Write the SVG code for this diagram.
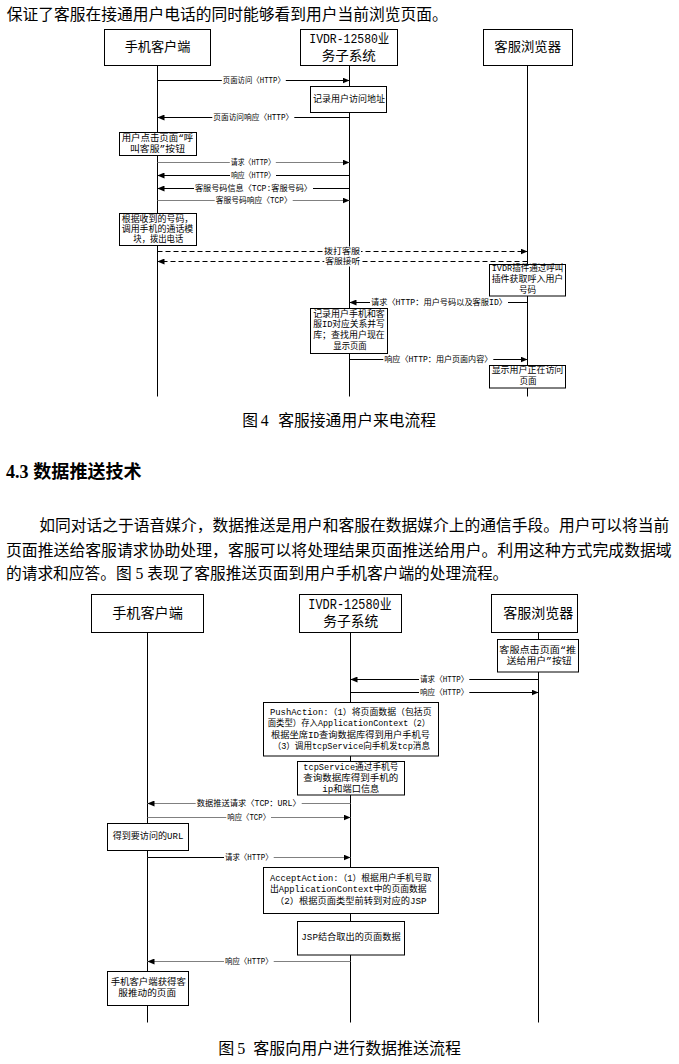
<svg xmlns="http://www.w3.org/2000/svg" width="679" height="1064" viewBox="0 0 679 1064">
<style>
.bg{fill:#fff}
.bx{fill:#fff;stroke:#000;stroke-width:1}
.ll{stroke:#000;stroke-width:1}
.m{stroke:#000;stroke-width:1;fill:none}
.g{stroke:#808080}
.d{stroke-dasharray:5 3}
.t{font-family:"Liberation Mono","Noto Sans CJK SC",monospace;fill:#000;text-anchor:middle;dominant-baseline:central}
.lb{font-size:8.3px}
.nt{font-size:8.6px}
.h1{font-size:13px}
.h2{font-size:14px}
.lr{fill:#fff}
.body{font-family:"Liberation Serif","Noto Sans CJK SC",serif;font-size:15.75px;fill:#000;dominant-baseline:central}
.hd{font-family:"Liberation Serif","Noto Sans CJK SC",serif;font-size:18px;font-weight:bold;fill:#000;dominant-baseline:central}
</style>
<defs>
<marker id="ah" markerUnits="userSpaceOnUse" markerWidth="7" markerHeight="6" refX="7" refY="3" orient="auto">
<path d="M0,0 L7,3 L0,6 z" fill="#000"/>
</marker>
</defs>
<rect class="bg" x="0" y="0" width="679" height="1064"/>

<!-- page text -->
<g id="text-top">
<text class="body" x="6.7" y="14" textLength="441" lengthAdjust="spacingAndGlyphs">保证了客服在接通用户电话的同时能够看到用户当前浏览页面。</text>
</g>

<!-- ============ Diagram 1 ============ -->
<g id="d1-p-client">
<line class="ll" x1="157.5" y1="65.5" x2="157.5" y2="396.5"/>
<rect class="bx" x="104.5" y="29.5" width="106" height="36"/>
<text class="t h1" x="157.5" y="47" textLength="65.7" lengthAdjust="spacingAndGlyphs">手机客户端</text>
</g>
<g id="d1-p-ivdr">
<line class="ll" x1="349.5" y1="65.5" x2="349.5" y2="396.5"/>
<rect class="bx" x="300.5" y="29.5" width="97" height="36"/>
<text class="t h1" x="349.3" y="39.5" textLength="80" lengthAdjust="spacingAndGlyphs">IVDR-12580业</text>
<text class="t h1" x="348.8" y="56" textLength="54.3" lengthAdjust="spacingAndGlyphs">务子系统</text>
</g>
<g id="d1-p-browser">
<line class="ll" x1="527.5" y1="65.5" x2="527.5" y2="396.5"/>
<rect class="bx" x="483.5" y="29.5" width="89" height="36"/>
<text class="t h1" x="527.7" y="47" textLength="66.7" lengthAdjust="spacingAndGlyphs">客服浏览器</text>
</g>

<g id="d1-connectors">
<line class="m" x1="157.5" y1="80.5" x2="349.5" y2="80.5" marker-end="url(#ah)"/>
<line class="m" x1="349.5" y1="117.5" x2="157.5" y2="117.5" marker-end="url(#ah)"/>
<line class="m g" x1="157.5" y1="162.5" x2="349.5" y2="162.5" marker-end="url(#ah)"/>
<line class="m" x1="349.5" y1="175.5" x2="157.5" y2="175.5" marker-end="url(#ah)"/>
<line class="m" x1="349.5" y1="188.5" x2="157.5" y2="188.5" marker-end="url(#ah)"/>
<line class="m g" x1="157.5" y1="200.5" x2="349.5" y2="200.5" marker-end="url(#ah)"/>
<line class="m d" x1="157.5" y1="251.5" x2="527.5" y2="251.5" marker-end="url(#ah)"/>
<line class="m d" x1="527.5" y1="261.5" x2="157.5" y2="261.5" marker-end="url(#ah)"/>
<line class="m" x1="527.5" y1="302.5" x2="349.5" y2="302.5" marker-end="url(#ah)"/>
<line class="m" x1="349.5" y1="359.5" x2="527.5" y2="359.5" marker-end="url(#ah)"/>
</g>

<g id="d1-labels">
<rect class="lr" x="221.8" y="75.5" width="64" height="10"/>
<text class="t lb" x="253.8" y="80.5" textLength="62" lengthAdjust="spacingAndGlyphs">页面访问〈HTTP〉</text>
<rect class="lr" x="212.3" y="112.5" width="82" height="10"/>
<text class="t lb" x="253.3" y="117.5" textLength="80" lengthAdjust="spacingAndGlyphs">页面访问响应〈HTTP〉</text>
<rect class="lr" x="229.8" y="157.5" width="46" height="10"/>
<text class="t lb" x="252.8" y="162.5" textLength="44" lengthAdjust="spacingAndGlyphs">请求〈HTTP〉</text>
<rect class="lr" x="230" y="170.5" width="46" height="10"/>
<text class="t lb" x="253" y="175.5" textLength="44" lengthAdjust="spacingAndGlyphs">响应〈HTTP〉</text>
<rect class="lr" x="194" y="183.5" width="119" height="10"/>
<text class="t lb" x="253.5" y="188.5" textLength="117" lengthAdjust="spacingAndGlyphs">客服号码信息〈TCP:客服号码〉</text>
<rect class="lr" x="214.7" y="195.5" width="78" height="10"/>
<text class="t lb" x="253.7" y="200.5" textLength="76" lengthAdjust="spacingAndGlyphs">客服号码响应〈TCP〉</text>
<rect class="lr" x="323" y="246.5" width="38" height="10"/>
<text class="t lb" x="342" y="251.5" textLength="36" lengthAdjust="spacingAndGlyphs">拨打客服</text>
<rect class="lr" x="324.3" y="256.5" width="37" height="10"/>
<text class="t lb" x="342.8" y="261.5" textLength="35" lengthAdjust="spacingAndGlyphs">客服接听</text>
<rect class="lr" x="370" y="297.5" width="138" height="10"/>
<text class="t lb" x="439" y="302.5" textLength="136" lengthAdjust="spacingAndGlyphs">请求〈HTTP：用户号码以及客服ID〉</text>
<rect class="lr" x="383.3" y="354.5" width="110" height="10"/>
<text class="t lb" x="438.3" y="359.5" textLength="108" lengthAdjust="spacingAndGlyphs">响应〈HTTP：用户页面内容〉</text>
</g>

<g id="d1-n-record">
<rect class="bx" x="310.5" y="86.5" width="76" height="26"/>
<text class="t nt" x="349" y="99.5" textLength="72" lengthAdjust="spacingAndGlyphs">记录用户访问地址</text>
</g>
<g id="d1-n-click">
<rect class="bx" x="119.5" y="132.5" width="77" height="23"/>
<text class="t nt" x="157.5" y="138.5" textLength="71.6" lengthAdjust="spacingAndGlyphs">用户点击页面“呼</text>
<text class="t nt" x="157.5" y="149.5" textLength="55" lengthAdjust="spacingAndGlyphs">叫客服”按钮</text>
</g>
<g id="d1-n-dial">
<rect class="bx" x="119.5" y="213.5" width="77" height="32"/>
<text class="t nt" x="157.5" y="220" textLength="71.6" lengthAdjust="spacingAndGlyphs">根据收到的号码，</text>
<text class="t nt" x="157.5" y="230.2" textLength="71.6" lengthAdjust="spacingAndGlyphs">调用手机的通话模</text>
<text class="t nt" x="158.3" y="240" textLength="50" lengthAdjust="spacingAndGlyphs">块，拨出电话</text>
</g>
<g id="d1-n-plugin">
<rect class="bx" x="489.5" y="264.5" width="76" height="31.5"/>
<text class="t nt" x="527.5" y="269.4" textLength="71.7" lengthAdjust="spacingAndGlyphs">IVDR插件通过呼叫</text>
<text class="t nt" x="527.5" y="280.1" textLength="71.7" lengthAdjust="spacingAndGlyphs">插件获取呼入用户</text>
<text class="t nt" x="527.5" y="290.8">号码</text>
</g>
<g id="d1-n-store">
<rect class="bx" x="310.5" y="308.5" width="77" height="45"/>
<text class="t nt" x="349" y="314.6" textLength="71.7" lengthAdjust="spacingAndGlyphs">记录用户手机和客</text>
<text class="t nt" x="349" y="325.4" textLength="71.7" lengthAdjust="spacingAndGlyphs">服ID对应关系并写</text>
<text class="t nt" x="349" y="336.3" textLength="71.7" lengthAdjust="spacingAndGlyphs">库；查找用户现在</text>
<text class="t nt" x="350" y="347.3" textLength="33.4" lengthAdjust="spacingAndGlyphs">显示页面</text>
</g>
<g id="d1-n-show">
<rect class="bx" x="489.5" y="365.5" width="76" height="22.5"/>
<text class="t nt" x="527.5" y="371.3" textLength="71.7" lengthAdjust="spacingAndGlyphs">显示用户正在访问</text>
<text class="t nt" x="528" y="382">页面</text>
</g>

<g id="caption-4">
<text class="body" y="420"><tspan x="242.3">图</tspan><tspan x="260.7">4</tspan><tspan x="278.3" textLength="157.7" lengthAdjust="spacingAndGlyphs">客服接通用户来电流程</tspan></text>
</g>

<g id="heading">
<text class="hd" y="471.7"><tspan x="6">4.3</tspan><tspan x="33.3" textLength="108.3" lengthAdjust="spacingAndGlyphs">数据推送技术</tspan></text>
</g>

<g id="paragraph">
<text class="body" x="39.3" y="525" textLength="630" lengthAdjust="spacingAndGlyphs">如同对话之于语音媒介，数据推送是用户和客服在数据媒介上的通信手段。用户可以将当前</text>
<text class="body" x="6" y="550" textLength="665.7" lengthAdjust="spacingAndGlyphs">页面推送给客服请求协助处理，客服可以将处理结果页面推送给用户。利用这种方式完成数据域</text>
<text class="body" x="6" y="573.3" textLength="502.3" lengthAdjust="spacingAndGlyphs">的请求和应答。图 5 表现了客服推送页面到用户手机客户端的处理流程。</text>
</g>

<!-- ============ Diagram 2 ============ -->
<g id="d2-p-client">
<line class="ll" x1="147.5" y1="632.5" x2="147.5" y2="1022.5"/>
<rect class="bx" x="91.5" y="594.5" width="112" height="38"/>
<text class="t h2" x="147.5" y="613.5" textLength="70.7" lengthAdjust="spacingAndGlyphs">手机客户端</text>
</g>
<g id="d2-p-ivdr">
<line class="ll" x1="350.5" y1="632.5" x2="350.5" y2="1022.5"/>
<rect class="bx" x="299.5" y="594.5" width="102" height="38"/>
<text class="t h2" x="350" y="605" textLength="83.3" lengthAdjust="spacingAndGlyphs">IVDR-12580业</text>
<text class="t h2" x="350.8" y="621.7" textLength="55" lengthAdjust="spacingAndGlyphs">务子系统</text>
</g>
<g id="d2-p-browser">
<line class="ll" x1="538.5" y1="632.5" x2="538.5" y2="1022.5"/>
<rect class="bx" x="491.5" y="594.5" width="86" height="38"/>
<text class="t h2" x="538.3" y="613.5" textLength="70" lengthAdjust="spacingAndGlyphs">客服浏览器</text>
</g>

<g id="d2-connectors">
<line class="m" x1="538.5" y1="679.5" x2="350.5" y2="679.5" marker-end="url(#ah)"/>
<line class="m" x1="350.5" y1="692.5" x2="538.5" y2="692.5" marker-end="url(#ah)"/>
<line class="m g" x1="350.5" y1="803.5" x2="147.5" y2="803.5" marker-end="url(#ah)"/>
<line class="m g" x1="147.5" y1="817.5" x2="350.5" y2="817.5" marker-end="url(#ah)"/>
<line class="m g" x1="147.5" y1="857.5" x2="350.5" y2="857.5" marker-end="url(#ah)"/>
<line class="m" x1="147.5" y1="857.5" x2="226" y2="857.5"/>
<line class="m g" x1="350.5" y1="961.5" x2="147.5" y2="961.5" marker-end="url(#ah)"/>
</g>

<g id="d2-labels">
<rect class="lr" x="419" y="674.5" width="50.3" height="10"/>
<text class="t lb" x="444.2" y="679.5" textLength="48.3" lengthAdjust="spacingAndGlyphs">请求〈HTTP〉</text>
<rect class="lr" x="419" y="687.5" width="50.3" height="10"/>
<text class="t lb" x="444.2" y="692.5" textLength="48.3" lengthAdjust="spacingAndGlyphs">响应〈HTTP〉</text>
<rect class="lr" x="195.7" y="798.5" width="106" height="10"/>
<text class="t lb" x="248.7" y="803.5" textLength="104" lengthAdjust="spacingAndGlyphs">数据推送请求〈TCP：URL〉</text>
<rect class="lr" x="226.3" y="812.5" width="44.7" height="10"/>
<text class="t lb" x="248.7" y="817.5" textLength="42.7" lengthAdjust="spacingAndGlyphs">响应〈TCP〉</text>
<rect class="lr" x="224" y="852.5" width="49.7" height="10"/>
<text class="t lb" x="248.8" y="857.5" textLength="47.7" lengthAdjust="spacingAndGlyphs">请求〈HTTP〉</text>
<rect class="lr" x="224" y="956.5" width="49.7" height="10"/>
<text class="t lb" x="248.8" y="961.5" textLength="47.7" lengthAdjust="spacingAndGlyphs">响应〈HTTP〉</text>
</g>

<g id="d2-n-push-click">
<rect class="bx" x="497.5" y="639.5" width="81" height="32.5"/>
<text class="t nt" x="537.7" y="651" textLength="76.7" lengthAdjust="spacingAndGlyphs">客服点击页面“推</text>
<text class="t nt" x="539.2" y="661.6" textLength="65" lengthAdjust="spacingAndGlyphs">送给用户”按钮</text>
</g>
<g id="d2-n-pushaction">
<rect class="bx" x="263.5" y="702.5" width="175" height="53.5"/>
<text class="t nt" x="350.8" y="712.9" textLength="161.7" lengthAdjust="spacingAndGlyphs">PushAction:（1）将页面数据（包括页</text>
<text class="t nt" x="348.9" y="724.2" textLength="162.3" lengthAdjust="spacingAndGlyphs">面类型）存入ApplicationContext（2）</text>
<text class="t nt" x="350.5" y="735.5" textLength="159" lengthAdjust="spacingAndGlyphs">根据坐席ID查询数据库得到用户手机号</text>
<text class="t nt" x="351.3" y="746.8" textLength="157.3" lengthAdjust="spacingAndGlyphs">（3）调用tcpService向手机发tcp消息</text>
</g>
<g id="d2-n-tcp">
<rect class="bx" x="297.5" y="761.5" width="107" height="33.5"/>
<text class="t nt" x="350.8" y="767.8" textLength="95" lengthAdjust="spacingAndGlyphs">tcpService通过手机号</text>
<text class="t nt" x="350.8" y="778.6" textLength="95" lengthAdjust="spacingAndGlyphs">查询数据库得到手机的</text>
<text class="t nt" x="350.8" y="789.8" textLength="57" lengthAdjust="spacingAndGlyphs">ip和端口信息</text>
</g>
<g id="d2-n-url">
<rect class="bx" x="107.5" y="823.5" width="81" height="27"/>
<text class="t nt" x="148" y="837.3" textLength="70.7" lengthAdjust="spacingAndGlyphs">得到要访问的URL</text>
</g>
<g id="d2-n-accept">
<rect class="bx" x="263.5" y="867.5" width="175" height="46"/>
<text class="t nt" x="350.8" y="879" textLength="161.7" lengthAdjust="spacingAndGlyphs">AcceptAction:（1）根据用户手机号取</text>
<text class="t nt" x="348.3" y="890.2" textLength="156.7" lengthAdjust="spacingAndGlyphs">出ApplicationContext中的页面数据</text>
<text class="t nt" x="350.8" y="901.8" textLength="151.7" lengthAdjust="spacingAndGlyphs">（2）根据页面类型前转到对应的JSP</text>
</g>
<g id="d2-n-jsp">
<rect class="bx" x="297.5" y="921.5" width="107" height="33.5"/>
<text class="t nt" x="351" y="938.3" textLength="99.3" lengthAdjust="spacingAndGlyphs">JSP结合取出的页面数据</text>
</g>
<g id="d2-n-result">
<rect class="bx" x="107.5" y="971.5" width="81" height="34"/>
<text class="t nt" x="148.3" y="983" textLength="75.3" lengthAdjust="spacingAndGlyphs">手机客户端获得客</text>
<text class="t nt" x="147.2" y="994.3" textLength="57.7" lengthAdjust="spacingAndGlyphs">服推动的页面</text>
</g>

<g id="caption-5">
<text class="body" y="1048.3" style="font-size:16px"><tspan x="218.3">图</tspan><tspan x="237.3">5</tspan><tspan x="253.3" textLength="207.7" lengthAdjust="spacingAndGlyphs">客服向用户进行数据推送流程</tspan></text>
</g>
</svg>
